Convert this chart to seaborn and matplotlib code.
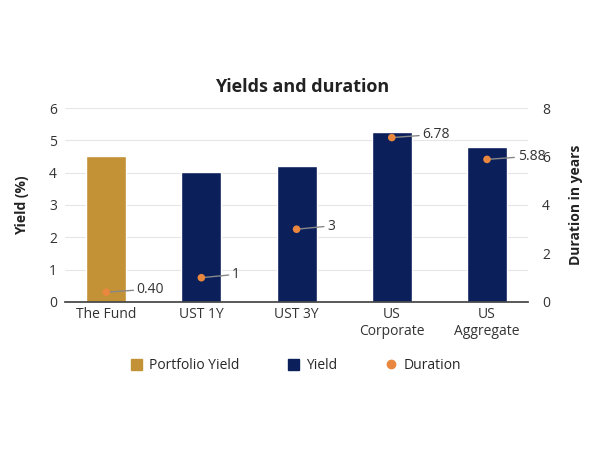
import matplotlib
matplotlib.use("Agg")
import matplotlib.pyplot as plt
import seaborn as sns
import pandas as pd
from matplotlib.patches import Patch
from matplotlib.lines import Line2D

categories = ["The Fund", "UST 1Y", "UST 3Y", "US\nCorporate", "US\nAggregate"]
yields = [4.52, 4.02, 4.20, 5.27, 4.80]
durations = [0.40, 1, 3, 6.78, 5.88]
duration_labels = ["0.40", "1", "3", "6.78", "5.88"]

GOLD = "#C39236"
NAVY = "#0B1F5B"
ORANGE = "#E8873D"

sns.set_theme(style="white")
plt.rcParams["font.family"] = ["Open Sans", "DejaVu Sans"]

df = pd.DataFrame({"cat": categories, "yield": yields})
palette = [GOLD] + [NAVY] * (len(categories) - 1)

fig = plt.figure(figsize=(5.92, 4.5), dpi=100)
ax = fig.add_axes([0.11, 0.329, 0.782, 0.431])
sns.barplot(data=df, x="cat", y="yield", hue="cat", palette=palette,
            legend=False, width=0.42, ax=ax, saturation=1)
ax.set_ylim(0, 6)
ax.set_yticks(range(0, 7))
ax.yaxis.grid(True, color="#e6e6e6", lw=0.8)
ax.set_axisbelow(True)
ax.set_xlabel("")
ax.set_ylabel("Yield (%)", fontsize=10, fontweight="bold", color="#222", labelpad=14)
ax.tick_params(axis="both", labelsize=10, colors="#333", length=0)
ax.tick_params(axis="y", pad=6)
for s in ["top", "right", "left"]:
    ax.spines[s].set_visible(False)
ax.spines["bottom"].set_color("#444")

ax2 = ax.twinx()
ax2.set_ylim(0, 8)
ax2.set_yticks([0, 2, 4, 6, 8])
sns.scatterplot(x=range(len(categories)), y=durations, color=ORANGE, s=30,
                edgecolor="none", ax=ax2, zorder=5)
for i, (d, lab) in enumerate(zip(durations, duration_labels)):
    ax2.annotate(lab, xy=(i, d), xytext=(22, 2), textcoords="offset points",
                 fontsize=10, color="#333", va="center",
                 arrowprops=dict(arrowstyle="-", color="#888", lw=1,
                                 shrinkA=0, shrinkB=0,
                                 connectionstyle="arc,angleA=180,angleB=200,armA=6,armB=0,rad=0"))
ax2.set_ylabel("Duration in years", fontsize=10, fontweight="bold", color="#222", labelpad=14)
ax2.tick_params(axis="y", labelsize=10, colors="#333", length=0, pad=10)
for s in ["top", "right", "left", "bottom"]:
    ax2.spines[s].set_visible(False)

fig.text(0.51, 0.795, "Yields and duration", ha="center", fontsize=13,
         fontweight="bold", color="#222")

handles = [Patch(color=GOLD, label="Portfolio Yield"),
           Patch(color=NAVY, label="Yield"),
           Line2D([], [], marker="o", ls="", color=ORANGE, markersize=6, label="Duration")]
fig.legend(handles=handles, loc="center", bbox_to_anchor=(0.5, 0.187), ncol=3,
           frameon=False, fontsize=10, handlelength=0.8, handleheight=0.8,
           columnspacing=3.5, handletextpad=0.5)

fig.savefig("out.png", dpi=100)
